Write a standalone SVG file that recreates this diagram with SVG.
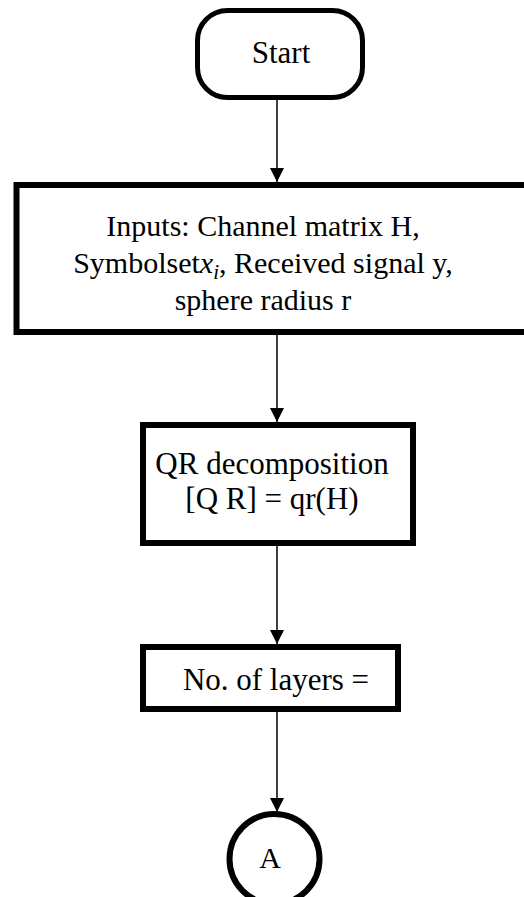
<svg xmlns="http://www.w3.org/2000/svg" width="524" height="897" viewBox="0 0 524 897">
  <defs>
    <style>
      .box { fill: #fff; stroke: #000; stroke-width: 6; }
      .term { fill: #fff; stroke: #000; stroke-width: 5; }
      .lbl { font-family: "Liberation Serif", "Times New Roman", serif; font-size: 30px; fill: #000; text-anchor: middle; }
      .big { font-size: 31px; }
      .math { font-family: "Liberation Serif", "Times New Roman", serif; font-style: italic; }
      .edge { stroke: #000; stroke-width: 1.5; fill: none; marker-end: url(#arrow); }
    </style>
    <marker id="arrow" viewBox="0 0 14 14" refX="14" refY="7" markerWidth="14" markerHeight="14" markerUnits="userSpaceOnUse" orient="auto">
      <path d="M0,0 L14,7 L0,14 Z" fill="#000"/>
    </marker>
  </defs>
  <rect width="524" height="897" fill="#fff"/>

  <!-- connectors -->
  <g id="connectors">
    <line class="edge" x1="277" y1="100" x2="277" y2="182"/>
    <line class="edge" x1="277" y1="335" x2="277" y2="422"/>
    <line class="edge" x1="277" y1="546" x2="277" y2="644"/>
    <line class="edge" x1="277" y1="712" x2="277" y2="812"/>
  </g>

  <g id="start">
    <rect class="term" x="197.5" y="10.5" width="165" height="87" rx="30" ry="30"/>
    <text class="lbl big" x="281" y="63">Start</text>
  </g>

  <g id="inputs">
    <rect class="box" x="16.5" y="185" width="520" height="147"/>
    <text class="lbl" x="263" y="236">Inputs: Channel matrix H,</text>
    <text class="lbl" x="263" y="273">Symbolset<tspan class="math">x</tspan><tspan class="math" font-size="21" dy="6">i</tspan><tspan dy="-6">, Received signal y,</tspan></text>
    <text class="lbl" x="263" y="310">sphere radius r</text>
  </g>

  <g id="qr">
    <rect class="box" x="143" y="425" width="270" height="118"/>
    <text class="lbl big" x="272" y="474">QR decomposition</text>
    <text class="lbl big" x="272" y="509">[Q R] = qr(H)</text>
  </g>

  <g id="layers">
    <rect class="box" x="143" y="647" width="255" height="62"/>
    <text class="lbl big" x="276" y="690">No. of layers =</text>
  </g>

  <g id="connector-a">
    <circle cx="274.5" cy="859" r="45" fill="#fff" stroke="#000" stroke-width="6"/>
    <text class="lbl" x="270" y="868" font-size="28">A</text>
  </g>
</svg>
